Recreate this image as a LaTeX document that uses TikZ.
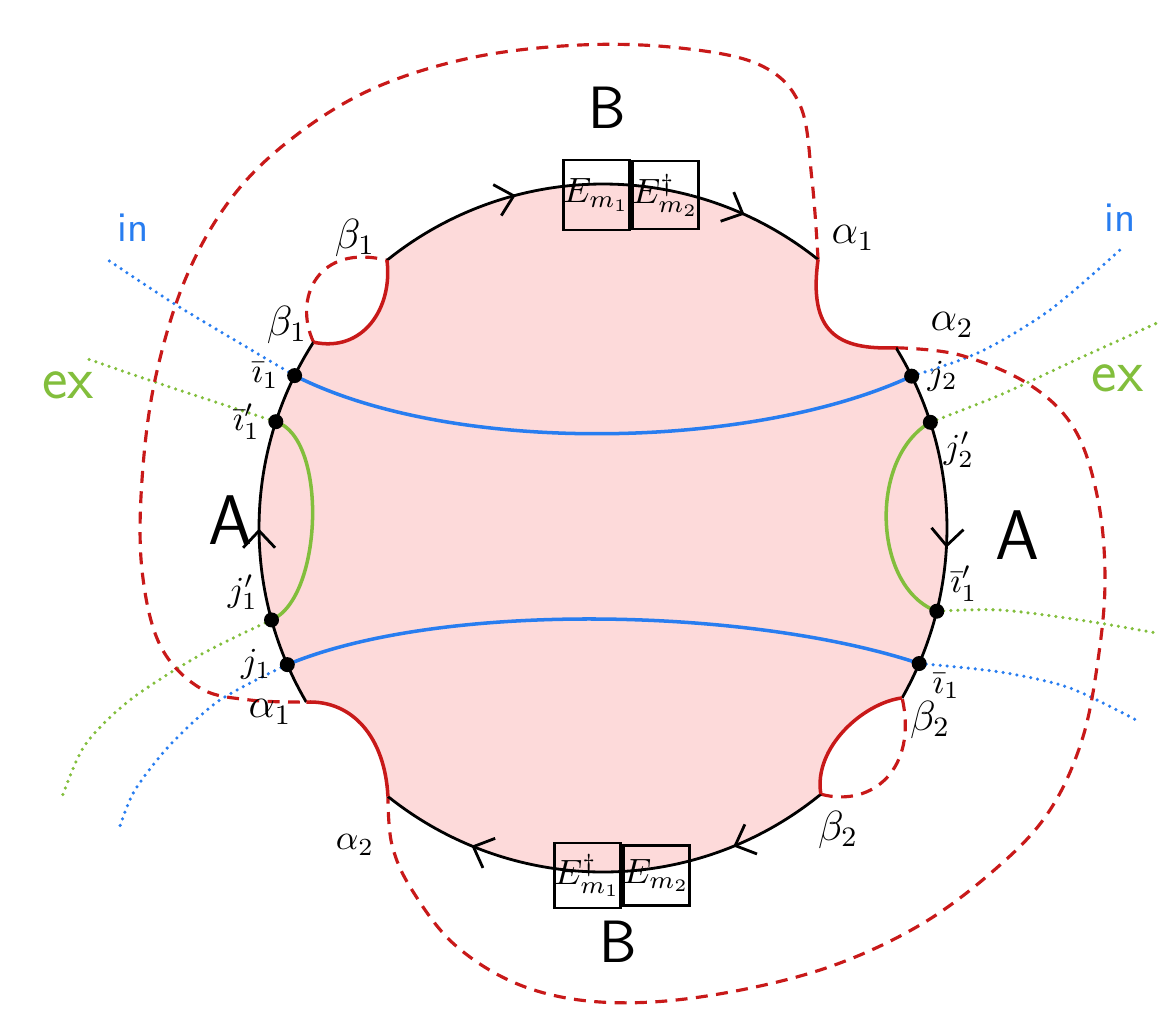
\documentclass[tikz,border=0pt]{standalone}
\usepackage{tikz}
\usetikzlibrary{arrows.meta, positioning, decorations.markings}

\definecolor{gluered}{RGB}{200,25,25}
\definecolor{inblue}{RGB}{40,125,240}
\definecolor{exgreen}{RGB}{130,190,60}
\definecolor{diskpink}{RGB}{253,218,218}

\newcommand{\rimR}{3.44}

\begin{document}
\begin{tikzpicture}[
        rim/.style={draw=black, line width=0.8pt},
        flowmark/.style={postaction={decorate, decoration={markings, mark=at position #1 with {\arrowreversed[line width=0.8pt]{Straight Barb[length=1.7mm, width=3.2mm]}}}}},
        notch/.style={draw=gluered, line width=1pt},
        glue/.style={draw=gluered, line width=0.9pt, dash pattern=on 3.4pt off 2.4pt},
        inpath/.style={draw=inblue, line width=1pt},
        expath/.style={draw=exgreen, line width=1pt},
        indots/.style={draw=inblue, line width=1pt, dash pattern=on 0pt off 2pt, line cap=round},
        exdots/.style={draw=exgreen, line width=1pt, dash pattern=on 0pt off 2pt, line cap=round},
        port/.style={circle, fill=black, inner sep=0pt, minimum size=1.5mm},
        ebox/.style={rectangle, draw=black, line width=0.8pt, inner sep=0pt, font=\normalsize},
        side/.style={font=\sffamily\fontsize{20}{20}\selectfont},
        inlbl/.style={text=inblue, font=\sffamily\large},
        exlbl/.style={text=exgreen, font=\sffamily\LARGE},
        greek/.style={font=\large},
        tag/.style={font=\normalsize, inner sep=1pt}
    ]

    \useasboundingbox (-6.03,-4.96) rectangle (5.55,5.28);

    % points on the rim
    \coordinate (a1t) at (51.3:\rimR);
    \coordinate (a2r) at (31.6:\rimR);
    \coordinate (b1a) at (128.9:\rimR);
    \coordinate (b1b) at (147.3:\rimR);
    \coordinate (a1l) at (210.4:\rimR);
    \coordinate (a2b) at (231.3:\rimR);
    \coordinate (b2b) at (309.3:\rimR);
    \coordinate (b2a) at (330.4:\rimR);
    \coordinate (topR) at (75.3:\rimR);
    \coordinate (topL) at (96.2:\rimR);
    \coordinate (botL) at (261.9:\rimR);
    \coordinate (botR) at (280.9:\rimR);
    \coordinate (iL) at (153.7:\rimR);
    \coordinate (iLp) at (162:\rimR);
    \coordinate (jLp) at (195.5:\rimR);
    \coordinate (jL) at (203.4:\rimR);
    \coordinate (jR) at (26.2:\rimR);
    \coordinate (jRp) at (17.9:\rimR);
    \coordinate (iRp) at (346:\rimR);
    \coordinate (iR) at (336.8:\rimR);

    % free ends of the dotted lines
    \coordinate (inTLend) at (-4.98,2.70);
    \coordinate (exTLend) at (-5.18,1.70);
    \coordinate (inTRend) at (5.17,2.78);
    \coordinate (exTRend) at (5.65,2.10);
    \coordinate (exBRend) at (5.65,-1.07);
    \coordinate (inBRend) at (5.37,-1.94);
    \coordinate (exBLend) at (-5.41,-2.69);
    \coordinate (inBLend) at (-4.83,-2.98);

    \fill[diskpink] (a1t) arc[start angle=51.3, end angle=128.9, radius=\rimR]
        .. controls (-2.1,2.2) and (-2.4,1.75) .. (b1b)
        arc[start angle=147.3, end angle=210.4, radius=\rimR]
        .. controls (-2.5,-1.72) and (-2.18,-2.1) .. (a2b)
        arc[start angle=231.3, end angle=309.3, radius=\rimR]
        .. controls (2.1,-2.2) and (2.6,-1.75) .. (b2a)
        arc[start angle=330.4, end angle=391.6, radius=\rimR]
        .. controls (2.35,1.78) and (2.05,1.95) .. (a1t) -- cycle;

    % dotted in / ex lines
    \draw[indots] plot[smooth] coordinates {(iL) (-3.6,1.83) (-4.3,2.25) (inTLend)};
    \draw[exdots] plot[smooth] coordinates {(iLp) (-4.03,1.31) (-4.63,1.51) (exTLend)};
    \draw[indots] plot[smooth] coordinates {(jR) (3.77,1.76) (4.47,2.18) (inTRend)};
    \draw[exdots] plot[smooth] coordinates {(jRp) (3.97,1.33) (4.77,1.70) (exTRend)};
    \draw[exdots] plot[smooth] coordinates {(iRp) (3.97,-0.82) (4.77,-0.92) (exBRend)};
    \draw[indots] plot[smooth] coordinates {(iR) (3.97,-1.44) (4.67,-1.60) (inBRend)};
    \draw[exdots] plot[smooth] coordinates {(jLp) (-4.03,-1.27) (-4.73,-1.72) (-5.18,-2.17) (exBLend)};
    \draw[indots] plot[smooth] coordinates {(jL) (-3.83,-1.72) (-4.33,-2.17) (-4.68,-2.62) (inBLend)};

    % gluing
    \draw[glue] plot[smooth, tension=0.6] coordinates {(a1t) (2.09,3.48) (1.97,4.23) (1.57,4.63) (0.77,4.80) (-0.23,4.83) (-1.33,4.70) (-2.33,4.38) (-3.13,3.88) (-3.73,3.28) (-4.18,2.48) (-4.48,1.48) (-4.61,0.48) (-4.61,-0.42) (-4.43,-1.17) (-4.03,-1.60) (-3.53,-1.72) (a1l)};
    \draw[glue] plot[smooth, tension=0.6] coordinates {(a2r) (3.57,1.73) (4.27,1.43) (4.72,0.98) (4.95,0.28) (5.02,-0.52) (4.95,-1.32) (4.79,-2.12) (4.47,-2.82) (3.97,-3.37) (3.17,-3.97) (2.17,-4.42) (0.97,-4.69) (-0.03,-4.74) (-0.83,-4.57) (-1.48,-4.17) (-1.91,-3.62) (-2.11,-3.17) (a2b)};
    \draw[glue] (b1b) .. controls (-3.1,2.3) and (-2.85,2.85) .. (b1a);
    \draw[glue] (b2b) .. controls (2.7,-2.8) and (3.15,-2.4) .. (b2a);

    % rim
    \draw[rim, flowmark=0.6] (a1t) arc[start angle=51.3, end angle=75.3, radius=\rimR];
    \draw[rim, flowmark=0.26] (topL) arc[start angle=96.2, end angle=128.9, radius=\rimR];
    \draw[rim, flowmark=0.52] (b1b) arc[start angle=147.3, end angle=210.4, radius=\rimR];
    \draw[rim, flowmark=0.53] (a2b) arc[start angle=231.3, end angle=261.9, radius=\rimR];
    \draw[rim, flowmark=0.4] (botR) arc[start angle=280.9, end angle=309.3, radius=\rimR];
    \draw[rim, flowmark=0.43] (b2a) arc[start angle=330.4, end angle=391.6, radius=\rimR];

    \draw[notch] (a1t) .. controls (2.05,1.95) and (2.35,1.78) .. (a2r);
    \draw[notch] (b1a) .. controls (-2.1,2.2) and (-2.4,1.75) .. (b1b);
    \draw[notch] (a1l) .. controls (-2.5,-1.72) and (-2.18,-2.1) .. (a2b);
    \draw[notch] (b2a) .. controls (2.6,-1.75) and (2.1,-2.2) .. (b2b);

    % in / ex arcs
    \draw[inpath] (iL) .. controls (-1.5,0.72) and (1.5,0.78) .. (jR);
    \draw[inpath] (jL) .. controls (-1.6,-0.72) and (1.5,-0.8) .. (iR);
    \draw[expath] (iLp) .. controls (-2.75,0.9) and (-2.8,-0.7) .. (jLp);
    \draw[expath] (jRp) .. controls (2.65,0.7) and (2.7,-0.6) .. (iRp);

    % boxes
    \node (Etop1) [ebox, minimum width=0.61cm, minimum height=0.70cm] at (-0.065,3.33) {$E_{m_1}$};
    \node (Etop2) [ebox, minimum width=0.63cm, minimum height=0.68cm, right=0pt of Etop1] {$E^{\dagger}_{m_2}$};
    \node (Ebot1) [ebox, minimum width=0.65cm, minimum height=0.65cm] at (-0.155,-3.475) {$E^{\dagger}_{m_1}$};
    \node (Ebot2) [ebox, minimum width=0.50cm, minimum height=0.60cm, right=0pt of Ebot1] {$E_{m_2}$};
    \draw[rim] (topR) arc[start angle=75.3, end angle=96.2, radius=\rimR];
    \draw[rim] (botL) arc[start angle=261.9, end angle=280.9, radius=\rimR];

    % ports
    \foreach \p in {iL, iLp, jLp, jL, jR, jRp, iRp, iR}
        \node (\p dot) [port] at (\p) {};

    % labels
    \node (Btop) [side, font=\sffamily\fontsize{17}{17}\selectfont] at (0.04,4.20) {B};
    \node (Bbot) [side, font=\sffamily\fontsize{17}{17}\selectfont] at (0.15,-4.14) {B};
    \node (Aleft) [side] at (-3.73,0.08) {A};
    \node (Aright) [side] at (4.14,-0.07) {A};
    \node (inTL) [inlbl] at (-4.70,3.00) {in};
    \node (inTR) [inlbl] at (5.17,3.10) {in};
    \node (exTL) [exlbl] at (-5.35,1.43) {ex};
    \node (exTR) [exlbl, anchor=east] at (5.53,1.50) {ex};

    \node (b1top) [greek] at (-2.48,2.90) {$\beta_1$};
    \node (b1left) [greek] at (-3.16,2.03) {$\beta_1$};
    \node (a1top) [greek] at (2.50,2.90) {$\alpha_1$};
    \node (a2right) [greek] at (3.49,2.03) {$\alpha_2$};
    \node (a1left) [greek] at (-3.33,-1.84) {$\alpha_1$};
    \node (a2bot) [tag] at (-2.48,-3.17) {$\alpha_2$};
    \node (b2right) [greek] at (3.27,-1.92) {$\beta_2$};
    \node (b2bot) [greek] at (2.35,-3.02) {$\beta_2$};

    \node [tag, left=1pt of iLdot] {$\bar{\imath}_1$};
    \node [tag, left=1pt of iLpdot] {$\bar{\imath}_1'$};
    \node [tag, above left=0pt and 1pt of jLpdot] {$j_1'$};
    \node [tag, left=1pt of jLdot] {$j_1$};
    \node [tag, right=1pt of jRdot] {$j_2$};
    \node [tag, below right=0pt and 1pt of jRpdot] {$j_2'$};
    \node [tag, above right=0pt and 1pt of iRpdot] {$\bar{\imath}_1'$};
    \node [tag, below right=0pt and 1pt of iRdot] {$\bar{\imath}_1$};

\end{tikzpicture}
\end{document}
